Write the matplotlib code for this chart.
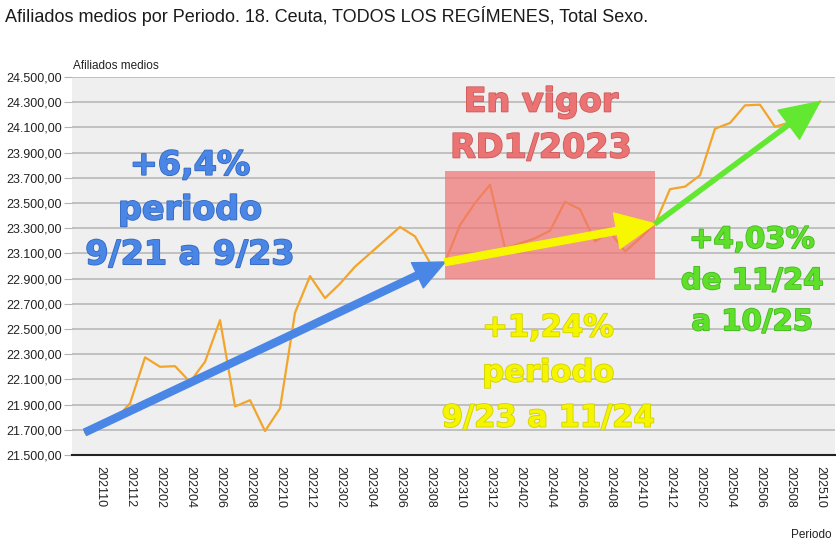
import matplotlib
matplotlib.use('Agg')
import matplotlib.pyplot as plt
import matplotlib.patheffects as pe
from matplotlib.patches import Rectangle
from matplotlib.ticker import FuncFormatter, FixedLocator

# periodos mensuales 202109 .. 202510
periodos = []
anio, mes = 2021, 9
while (anio, mes) <= (2025, 10):
    periodos.append(f"{anio}{mes:02d}")
    mes += 1
    if mes > 12:
        anio, mes = anio + 1, 1

# afiliados medios
afiliados = [
    21680, 21725, 21780, 21910, 22275, 22200, 22205, 22080, 22240, 22570,
    21885, 21935, 21690, 21870, 22630, 22920, 22745, 22860, 22995, 23100,
    23205, 23310, 23235, 23025, 23030, 23325, 23500, 23645, 23140, 23180,
    23220, 23280, 23510, 23450, 23195, 23270, 23115, 23220, 23335, 23610,
    23630, 23720, 24090, 24135, 24275, 24280, 24105, 24140, 24190, 24305,
]

# tramos de las flechas (índice inicio, índice fin)
tramo_azul = (0, 24)
tramo_amarillo = (24, 38)
tramo_verde = (38, 49)
zona_rd = (24, 38, 22900, 23750)  # x0, x1, y0, y1

W, H = 837, 558
fig = plt.figure(figsize=(W / 100, H / 100), dpi=100)
ax = fig.add_axes([72 / W, 1 - 455 / H, (835 - 72) / W, (455 - 77) / H])
ax.set_facecolor('#efefef')

x = list(range(len(periodos)))
ax.plot(x, afiliados, color='#f2a52a', lw=1.6, zorder=3)

# zona en vigor RD1/2023
x0, x1, y0, y1 = zona_rd
ax.add_patch(Rectangle((x0, y0), x1 - x0, y1 - y0, facecolor='#f07474',
                       alpha=0.72, edgecolor='none', zorder=4))


def flecha(tramo, color, tail, head_w, head_l):
    a, b = tramo
    ax.annotate('', xy=(x[b], afiliados[b]), xytext=(x[a], afiliados[a]),
                arrowprops=dict(arrowstyle=f'simple,head_length={head_l},head_width={head_w},tail_width={tail}',
                                color=color, shrinkA=0, shrinkB=0, mutation_scale=20),
                zorder=5)


flecha(tramo_azul, '#4a86e6', 0.25, 1.0, 1.1)
flecha(tramo_amarillo, '#f7f700', 0.25, 1.3, 1.4)
flecha(tramo_verde, '#62e830', 0.15, 1.3, 1.4)

ax.set_xlim(-0.87, 50)
ax.set_ylim(21500, 24500)
ax.yaxis.set_major_locator(FixedLocator(list(range(21500, 24501, 200))))
ax.yaxis.set_major_formatter(FuncFormatter(
    lambda v, p: f"{v:,.2f}".replace(',', 'X').replace('.', ',').replace('X', '.')))
ax.grid(axis='y', color='#b4b4b4', lw=1.1)
ax.set_axisbelow(True)
for s in ['left', 'right', 'top']:
    ax.spines[s].set_visible(False)
ax.spines['bottom'].set_color('#222222')
ax.spines['bottom'].set_linewidth(1.5)

ax.set_xticks(x[1::2])
ax.set_xticklabels(periodos[1::2], rotation=-90, fontsize=9,
                   family='Liberation Sans', color='#222222')
ax.tick_params(axis='x', length=0, pad=8)
ax.tick_params(axis='y', length=6, color='#b4b4b4', labelsize=9, pad=1)
for t in ax.get_yticklabels():
    t.set_family('Liberation Sans')
    t.set_color('#222222')

fig.text(5 / W, 1 - 16 / H,
         'Afiliados medios por Periodo. 18. Ceuta, TODOS LOS REGÍMENES, Total Sexo.',
         family='Liberation Sans', fontsize=13, va='center', color='#1a1a1a')
fig.text(73 / W, 1 - 66 / H, 'Afiliados medios', family='Liberation Sans',
         fontsize=8.5, va='center', color='#222222')
fig.text(832 / W, 1 - 535 / H, 'Periodo', family='Liberation Sans',
         fontsize=8.5, va='center', ha='right', color='#222222')


def rotulo(px, py, texto, color, borde, size, esp):
    fig.text(px / W, 1 - py / H, texto, ha='center', va='center', color=color,
             fontsize=size, fontweight='bold', linespacing=esp, zorder=10,
             path_effects=[pe.withStroke(linewidth=1.2, foreground=borde)])


rotulo(190, 210, '+6,4%\nperiodo\n9/21 a 9/23', '#4a86e6', '#3468c0', 24, 1.45)
rotulo(541, 125, 'En vigor\nRD1/2023', '#ec7373', '#cc5a5a', 24, 1.5)
rotulo(548, 373, '+1,24%\nperiodo\n9/23 a 11/24', '#f5f500', '#d0d000', 22, 1.7)
rotulo(752, 281, '+4,03%\nde 11/24\na 10/25', '#5ee02a', '#44b820', 21, 1.6)

fig.savefig('out.png', dpi=100)
